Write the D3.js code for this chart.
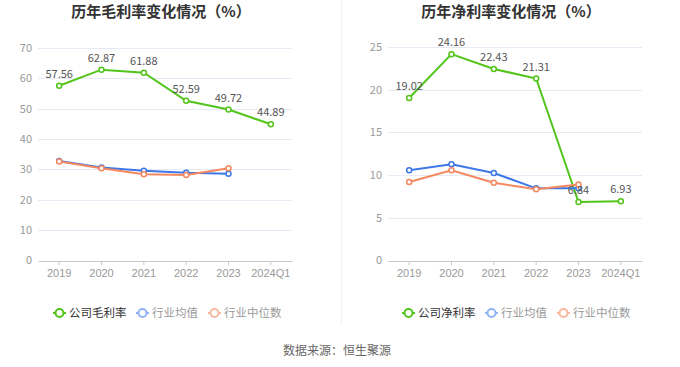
<!DOCTYPE html>
<html><head><meta charset="utf-8">
<script src="https://cdn.jsdelivr.net/npm/d3@7/dist/d3.min.js"></script>
<style>body{margin:0;background:#fff}svg{display:block;font-family:"Noto Sans CJK SC","Noto Sans",sans-serif}</style>
</head><body><svg id="c" width="680" height="367"></svg>
<script>
const categories = ["2019","2020","2021","2022","2023","2024Q1"];
const grossCompany = [57.56, 62.87, 61.88, 52.59, 49.72, 44.89];
const grossIndustryAvg = [32.8, 30.6, 29.6, 28.9, 28.6];
const grossIndustryMedian = [32.6, 30.4, 28.4, 28.2, 30.4];
const netCompany = [19.02, 24.16, 22.43, 21.31, 6.84, 6.93];
const netIndustryAvg = [10.56, 11.26, 10.25, 8.45, 8.45];
const netIndustryMedian = [9.2, 10.56, 9.1, 8.35, 8.9];
const grossTicks = [0,10,20,30,40,50,60,70];
const netTicks = [0,5,10,15,20,25];

const svg = d3.select("#c");
const C_GREEN = "#52c41a", C_BLUE = "#3d77e8", C_ORANGE = "#f5885e";
const L_BLUE = "#91b3f3", L_ORANGE = "#f8b9a1";

// divider
svg.append("line").attr("x1",341.5).attr("x2",341.5).attr("y1",0).attr("y2",325)
  .attr("stroke","#f2f2f2").attr("stroke-width",1);

function panel(opt){
  const x = d3.scaleBand().domain(categories).range(opt.xr);
  const y = d3.scaleLinear().domain([0, d3.max(opt.ticks)]).range([260.5, opt.ytop]);
  const g = svg.append("g");
  // title
  g.append("text").attr("x",opt.tx).attr("y",17).attr("text-anchor","middle")
    .attr("font-size",15).attr("font-weight","bold").attr("fill","#333").text(opt.title);
  // grid
  g.selectAll(".grid").data(opt.ticks.filter(t=>t>0)).enter().append("line")
    .attr("x1",opt.xr[0]).attr("x2",opt.xr[1])
    .attr("y1",d=>Math.round(y(d))+0.5).attr("y2",d=>Math.round(y(d))+0.5)
    .attr("stroke","#e6eaf4").attr("stroke-width",1);
  // y labels
  g.selectAll(".yl").data(opt.ticks).enter().append("text")
    .attr("x",opt.xr[0]-6).attr("y",d=>y(d)).attr("dy","0.35em")
    .attr("text-anchor","end").attr("font-size",11).attr("fill","#999").text(d=>d);
  // x axis
  const ax = d3.axisBottom(x).tickSize(4).tickSizeOuter(0).tickPadding(4);
  const axg = g.append("g").attr("transform","translate(0,261)").call(ax);
  axg.select(".domain").attr("stroke","#c8c8c8");
  axg.selectAll(".tick line").attr("stroke","#c8c8c8");
  axg.selectAll(".tick text").attr("fill","#999").attr("font-size",11).attr("font-family",null);
  const cx = d => x(d) + x.bandwidth()/2;
  const line = d3.line().x((d,i)=>cx(categories[i])).y(d=>y(d));
  const series = [
    {v:opt.company, c:C_GREEN},
    {v:opt.avg, c:C_BLUE},
    {v:opt.median, c:C_ORANGE}
  ];
  series.forEach(s=>{
    g.append("path").attr("d",line(s.v)).attr("fill","none").attr("stroke",s.c).attr("stroke-width",2);
  });
  series.forEach(s=>{
    g.selectAll(null).data(s.v).enter().append("circle")
      .attr("cx",(d,i)=>cx(categories[i])).attr("cy",d=>y(d)).attr("r",2.5)
      .attr("fill","#fff").attr("stroke",s.c).attr("stroke-width",1.5);
  });
  g.selectAll(".lab").data(opt.company).enter().append("text")
    .attr("x",(d,i)=>cx(categories[i])).attr("y",d=>y(d)-8)
    .attr("text-anchor","middle").attr("font-size",11).attr("fill","#555")
    .text(d=>d.toFixed(2));
  // legend
  const items = [
    {n:opt.names[0], c:C_GREEN, t:"#333", x:opt.lx[0]},
    {n:opt.names[1], c:L_BLUE, t:"#999", x:opt.lx[1]},
    {n:opt.names[2], c:L_ORANGE, t:"#999", x:opt.lx[2]}
  ];
  items.forEach(it=>{
    const lg = g.append("g").attr("transform",`translate(${it.x},313)`);
    lg.append("line").attr("x1",0).attr("x2",13).attr("y1",0).attr("y2",0).attr("stroke",it.c).attr("stroke-width",2);
    lg.append("circle").attr("cx",6.5).attr("cy",0).attr("r",4).attr("fill","#fff").attr("stroke",it.c).attr("stroke-width",2);
    lg.append("text").attr("x",16).attr("y",0).attr("dy","0.35em").attr("font-size",11.5).attr("fill",it.t).text(it.n);
  });
}

panel({xr:[38,292], ytop:48, ticks:grossTicks, title:"历年毛利率变化情况（%）", tx:161,
  company:grossCompany, avg:grossIndustryAvg, median:grossIndustryMedian,
  names:["公司毛利率","行业均值","行业中位数"], lx:[53,136,208]});
panel({xr:[388,642], ytop:47, ticks:netTicks, title:"历年净利率变化情况（%）", tx:511,
  company:netCompany, avg:netIndustryAvg, median:netIndustryMedian,
  names:["公司净利率","行业均值","行业中位数"], lx:[402,485,557]});

svg.append("text").attr("x",337).attr("y",351).attr("dy","0.35em").attr("text-anchor","middle")
  .attr("font-size",12).attr("fill","#666").text("数据来源：恒生聚源");
</script></body></html>
